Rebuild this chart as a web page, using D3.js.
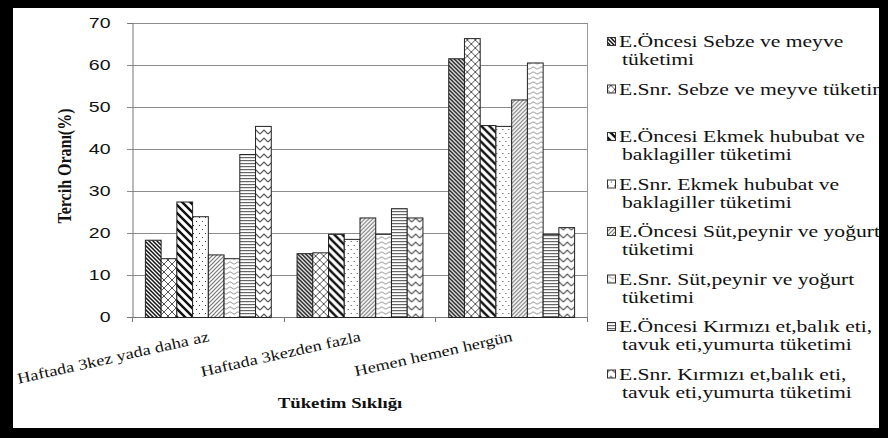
<!DOCTYPE html>
<html>
<head>
<meta charset="utf-8">
<script src="https://cdnjs.cloudflare.com/ajax/libs/d3/7.8.5/d3.min.js"></script>
<style>
    body { margin: 0; background: #fff; }
    svg { display: block; }
    text { fill: #111; }
    .serif { font-family: "Liberation Serif", "DejaVu Serif", serif; }
    .sans { font-family: "Liberation Sans", "DejaVu Sans", sans-serif; }
</style>
</head>
<body>
<svg width="888" height="438"></svg>
<script>
// kategoriler (x ekseni)
const categories = ["Haftada 3kez yada daha az", "Haftada 3kezden fazla", "Hemen hemen hergün"];

// seriler, her biri kategorilere göre yüzde
const oncesiSebze = [18.4, 15.2, 61.6];
const snrSebze = [14.0, 15.4, 66.4];
const oncesiEkmek = [27.5, 19.8, 45.7];
const snrEkmek = [24.0, 18.6, 45.5];
const oncesiSut = [14.9, 23.7, 51.8];
const snrSut = [14.0, 19.8, 60.6];
const oncesiEt = [38.8, 25.9, 19.8];
const snrEt = [45.5, 23.7, 21.4];

const yTicks = [0, 10, 20, 30, 40, 50, 60, 70];

// legend metinleri (satır kırılımlarıyla)
const legendLabels = [
    ["E.Öncesi  Sebze ve meyve", "tüketimi"],
    ["E.Snr.  Sebze ve meyve tüketimi"],
    ["E.Öncesi  Ekmek hububat ve", "baklagiller tüketimi"],
    ["E.Snr.  Ekmek hububat ve", "baklagiller tüketimi"],
    ["E.Öncesi  Süt,peynir ve yoğurt", "tüketimi"],
    ["E.Snr.  Süt,peynir ve yoğurt", "tüketimi"],
    ["E.Öncesi  Kırmızı et,balık eti,", "tavuk eti,yumurta tüketimi"],
    ["E.Snr.  Kırmızı et,balık eti,", "tavuk eti,yumurta tüketimi"]
];

const series = [oncesiSebze, snrSebze, oncesiEkmek, snrEkmek, oncesiSut, snrSut, oncesiEt, snrEt];

const svg = d3.select("svg"),
    width = +svg.attr("width"),
    height = +svg.attr("height");

// resim yatayda gerilmiş, yazıları da germek için
function stretch(sel, k) {
    sel.each(function () {
        const w = this.getComputedTextLength();
        d3.select(this).attr("textLength", w * k).attr("lengthAdjust", "spacingAndGlyphs");
    });
}

svg.append("rect").attr("width", width).attr("height", height).attr("fill", "#fff");

// desenler
const defs = svg.append("defs");
function pattern(id, w, h, draw) {
    const p = defs.append("pattern").attr("id", id)
        .attr("patternUnits", "userSpaceOnUse")
        .attr("width", w).attr("height", h);
    p.append("rect").attr("width", w).attr("height", h).attr("fill", "#fff");
    draw(p);
}
pattern("p0", 4, 4, p => p.append("path")
    .attr("d", "M0 0L4 4M-1 3L1 5M3 -1L5 1")
    .attr("stroke", "#111").attr("stroke-width", 1.5));
pattern("p1", 8, 8, p => p.append("path")
    .attr("d", "M0 0L8 8M8 0L0 8")
    .attr("stroke", "#555").attr("stroke-width", 1));
pattern("p2", 8, 8, p => p.append("path")
    .attr("d", "M0 0L8 8M-2 6L2 10M6 -2L10 2")
    .attr("stroke", "#111").attr("stroke-width", 2.4));
pattern("p3", 6, 8, p => {
    p.append("rect").attr("x", 1).attr("y", 1).attr("width", 1).attr("height", 1).attr("fill", "#444");
    p.append("rect").attr("x", 4).attr("y", 5).attr("width", 1).attr("height", 1).attr("fill", "#444");
});
pattern("p4", 4, 4, p => p.append("path")
    .attr("d", "M0 4L4 0M-1 1L1 -1M3 5L5 3")
    .attr("stroke", "#777").attr("stroke-width", 1.2));
pattern("p5", 8, 5, p => p.append("path")
    .attr("d", "M0 3Q2 0.5 4 3T8 3")
    .attr("fill", "none").attr("stroke", "#999").attr("stroke-width", 1));
pattern("p6", 3, 3, p => p.append("rect")
    .attr("y", 1).attr("width", 3).attr("height", 1.2).attr("fill", "#666"));
pattern("p7", 8, 8, p => p.append("path")
    .attr("d", "M0 6L4 2L8 6")
    .attr("fill", "none").attr("stroke", "#555").attr("stroke-width", 1.2));

// çizim alanı
const plot = {left: 132, right: 587, top: 23, bottom: 317};

const x0 = d3.scaleBand()
    .domain(categories)
    .range([plot.left, plot.right]);

const x1 = d3.scaleBand()
    .domain(d3.range(series.length))
    .range([x0.bandwidth() * 0.085, x0.bandwidth() * 0.915]);

const y = d3.scaleLinear()
    .domain([0, 70])
    .range([plot.bottom, plot.top]);

// ızgara
svg.append("g")
    .selectAll("line")
    .data(yTicks)
    .enter().append("line")
    .attr("x1", plot.left - 5)
    .attr("x2", plot.right)
    .attr("y1", d => y(d) + 0.5)
    .attr("y2", d => y(d) + 0.5)
    .attr("stroke", d => d === 0 ? "#777" : "#8c8c8c");

svg.append("line")
    .attr("x1", plot.right + 0.5).attr("x2", plot.right + 0.5)
    .attr("y1", plot.top).attr("y2", plot.bottom)
    .attr("stroke", "#999");

// y ekseni
const yAxis = svg.append("g")
    .attr("transform", `translate(${plot.left + 0.5},0)`)
    .call(d3.axisLeft(y).tickValues(yTicks).tickSize(5).tickPadding(17));
yAxis.attr("font-family", null).attr("font-size", null);
yAxis.select(".domain").attr("stroke", "#777");
yAxis.selectAll(".tick line").remove();
yAxis.selectAll("text")
    .attr("class", "sans").style("font-size", "15px").attr("fill", "#111");
stretch(yAxis.selectAll("text"), 1.3);

// x ekseni tikleri (kategori sınırları)
svg.append("g")
    .selectAll("line")
    .data(categories.concat([null]))
    .enter().append("line")
    .attr("x1", (d, i) => Math.round(x0.step() * i + plot.left) + 0.5)
    .attr("x2", (d, i) => Math.round(x0.step() * i + plot.left) + 0.5)
    .attr("y1", plot.bottom)
    .attr("y2", plot.bottom + 5)
    .attr("stroke", "#777");

// çubuklar
const groups = svg.append("g")
    .selectAll("g")
    .data(categories)
    .enter().append("g")
    .attr("transform", d => `translate(${x0(d)},0)`);

groups.selectAll("rect")
    .data((d, ci) => series.map((s, si) => ({si: si, value: s[ci]})))
    .enter().append("rect")
    .attr("x", d => x1(d.si) + 0.5)
    .attr("y", d => y(d.value) + 0.5)
    .attr("width", x1.bandwidth())
    .attr("height", d => y(0) - y(d.value))
    .attr("fill", d => `url(#p${d.si})`)
    .attr("stroke", "#222")
    .attr("stroke-width", 1);

// kategori etiketleri
const catLabels = svg.append("g")
    .selectAll("text")
    .data(categories)
    .enter().append("text")
    .attr("class", "serif")
    .attr("transform", d => `translate(${x0(d) + x0.bandwidth() / 2 + 2},341) rotate(-12.6)`)
    .attr("text-anchor", "end")
    .style("font-size", "15px")
    .text(d => d);
stretch(catLabels, 1.22);

// eksen başlıkları
const xTitle = svg.append("text")
    .attr("class", "serif")
    .attr("x", 340).attr("y", 408)
    .attr("text-anchor", "middle")
    .style("font-size", "15px").style("font-weight", "bold")
    .text("Tüketim  Sıklığı");
stretch(xTitle, 1.25);

svg.append("text")
    .attr("class", "serif")
    .attr("transform", "translate(71,166) scale(1.2,1) rotate(-90)")
    .attr("text-anchor", "middle")
    .style("font-size", "16px").style("font-weight", "bold")
    .text("Tercih Oranı(%)");

// legend
const legend = svg.append("g")
    .selectAll("g")
    .data(legendLabels)
    .enter().append("g")
    .attr("transform", (d, i) => `translate(607,${42 + i * 47.5})`);

legend.append("rect")
    .attr("x", 0.5).attr("y", -4.5)
    .attr("width", 8).attr("height", 8)
    .attr("fill", (d, i) => `url(#p${i})`)
    .attr("stroke", "#333");

const legendText = legend.selectAll("text")
    .data(d => d)
    .enter().append("text")
    .attr("class", "serif")
    .attr("x", (d, i) => i === 0 ? 12 : 15)
    .attr("y", (d, i) => 5 + i * 18)
    .style("font-size", "16px")
    .text(d => d);
stretch(legendText, 1.35);

// siyah çerçeve
svg.append("path")
    .attr("fill-rule", "evenodd")
    .attr("fill", "#000")
    .attr("d", `M0 0H${width}V${height}H0Z M13 8V428H879V8Z`);
</script>
</body>
</html>
